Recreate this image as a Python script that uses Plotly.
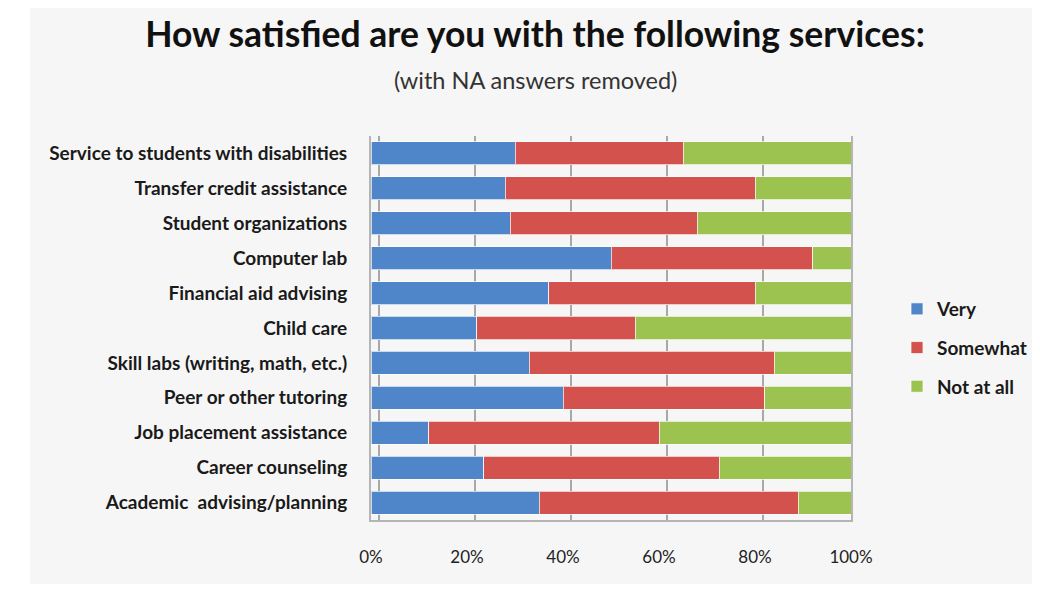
import plotly.graph_objects as go

categories = [
    "Service to students with disabilities",
    "Transfer credit assistance",
    "Student organizations",
    "Computer lab",
    "Financial aid advising",
    "Child care",
    "Skill labs (writing, math, etc.)",
    "Peer or other tutoring",
    "Job placement assistance",
    "Career counseling",
    "Academic  advising/planning",
]
very = [30, 28, 29, 50, 37, 22, 33, 40, 12, 23.5, 35]
somewhat = [35, 52, 39, 42, 43, 33, 51, 42, 48, 49, 54]
not_at_all = [35, 20, 32, 8, 20, 45, 16, 18, 40, 27.5, 11]

series_names = ["Very", "Somewhat", "Not at all"]
series_values = [very, somewhat, not_at_all]
colors = ["#4f86c9", "#d3524e", "#9cc250"]

tick_vals = [0, 20, 40, 60, 80, 100]
tick_text = ["0%", "20%", "40%", "60%", "80%", "100%"]

font_family = "Lato, 'Open Sans', sans-serif"

# page body has an 8px margin; keep figure inside the 1040x592 window
W, H = 1024, 576
L, R, T, B = 363, 843, 128, 512
PW, PH = R - L, B - T

fig = go.Figure()
for name, vals, col in zip(series_names, series_values, colors):
    fig.add_trace(go.Bar(
        y=categories, x=vals, name=name, orientation="h",
        marker=dict(color=col, line=dict(color="rgba(255,255,255,0.7)", width=1)),
        legendgroup=name, xaxis="x", yaxis="y",
    ))

# invisible trace on shifted axis to draw back-wall gridlines
fig.add_trace(go.Scatter(x=[None], y=[None], xaxis="x2", yaxis="y",
                         showlegend=False, hoverinfo="skip"))

fig.update_layout(
    width=W, height=H,
    barmode="stack",
    bargap=0.34,
    paper_bgcolor="white",
    plot_bgcolor="rgba(0,0,0,0)",
    margin=dict(l=L, r=W - R, t=T, b=H - B, autoexpand=False),
    font=dict(family=font_family, color="#1a1a1a"),
    title=dict(
        text="<b>How satisfied are you with the following services:</b>",
        x=527 / W, xanchor="center", xref="container",
        y=1 - 27 / H, yanchor="middle", yref="container",
        font=dict(size=35.5, family=font_family, color="#111111"),
    ),
    xaxis=dict(
        range=[0, 100], tickvals=tick_vals, ticktext=tick_text,
        showgrid=False, zeroline=False,
        showline=True, linecolor="#b5b5b5", linewidth=2,
        tickfont=dict(size=17, family=font_family, color="#222222"),
        ticklabelstandoff=21, ticks="",
    ),
    xaxis2=dict(
        overlaying="x", range=[-1.67, 98.33], tickvals=tick_vals,
        showgrid=True, gridcolor="#a8a8a8", gridwidth=2,
        showticklabels=False, zeroline=False, side="top",
    ),
    yaxis=dict(
        categoryorder="array", categoryarray=categories[::-1],
        range=[-0.5, 10.5],
        showline=True, mirror=True, linecolor="#b5b5b5", linewidth=2,
        showgrid=False, ticks="",
        tickfont=dict(size=19, family=font_family, color="#1a1a1a", weight="bold"),
        ticklabelstandoff=18,
    ),
    legend=dict(
        x=(889 - L) / PW, xanchor="left", y=(B - 340) / PH, yanchor="middle",
        traceorder="grouped", tracegroupgap=11,
        font=dict(size=19, family=font_family, color="#1a1a1a", weight="bold"),
        bgcolor="rgba(0,0,0,0)", itemwidth=30,
    ),
    shapes=[dict(
        type="rect", xref="paper", yref="paper",
        x0=(22 - L) / PW, x1=(W + 10 - L) / PW,
        y0=(B - H - 10) / PH, y1=(B + 1) / PH,
        fillcolor="#f6f6f6", line=dict(width=0), layer="below",
    )],
    annotations=[dict(
        text="(with NA answers removed)", xref="paper", yref="paper",
        x=(527 - L) / PW, y=(B - 72) / PH, xanchor="center", yanchor="middle",
        showarrow=False, font=dict(size=23.5, family=font_family, color="#333333"),
    )],
)

fig.write_html("out.html")
